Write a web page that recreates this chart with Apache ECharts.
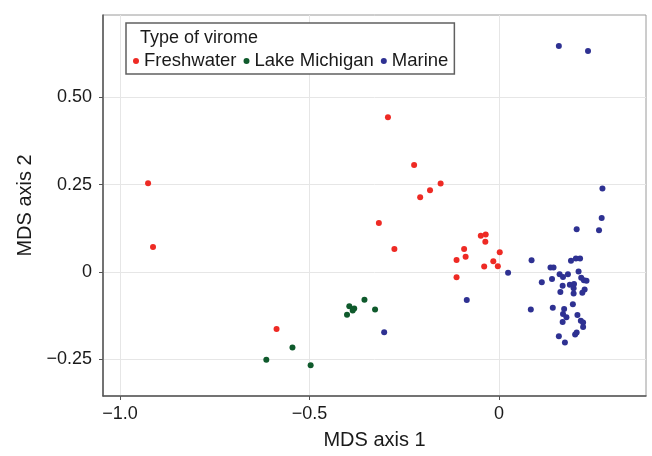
<!DOCTYPE html>
<html>
<head>
<meta charset="utf-8">
<script src="https://cdn.jsdelivr.net/npm/echarts@6/dist/echarts.min.js"></script>
<style>html,body{margin:0;padding:0;background:#fff}#c{width:652px;height:456px}</style>
</head>
<body>
<div id="c"></div>
<script>
// Data (MDS axis 1, MDS axis 2)
var freshwater = [
  [-0.926, 0.254], [-0.913, 0.071], [-0.293, 0.443], [-0.224, 0.306], [-0.208, 0.214],
  [-0.182, 0.234], [-0.154, 0.253], [-0.317, 0.140], [-0.276, 0.065], [-0.587, -0.164],
  [-0.048, 0.103], [-0.035, 0.107], [-0.036, 0.086], [-0.092, 0.065], [-0.112, 0.034],
  [-0.088, 0.043], [0.002, 0.056], [-0.015, 0.030], [-0.039, 0.015], [-0.003, 0.016],
  [-0.112, -0.016]
];
var lakeMichigan = [
  [-0.355, -0.080], [-0.395, -0.099], [-0.382, -0.105], [-0.386, -0.111], [-0.401, -0.123],
  [-0.327, -0.108], [-0.545, -0.217], [-0.614, -0.252], [-0.497, -0.268]
];
var marine = [
  [0.158, 0.647], [0.235, 0.633], [0.273, 0.239], [0.271, 0.154], [0.205, 0.122],
  [0.264, 0.119], [0.086, 0.033], [0.190, 0.032], [0.203, 0.038], [0.214, 0.038],
  [0.136, 0.012], [0.144, 0.012], [0.210, 0.001], [0.024, -0.003], [0.160, -0.007],
  [0.182, -0.007], [0.169, -0.015], [0.217, -0.017], [0.224, -0.024], [0.231, -0.026],
  [0.140, -0.021], [0.113, -0.030], [0.168, -0.040], [0.187, -0.037], [0.198, -0.035],
  [0.197, -0.047], [0.226, -0.051], [0.220, -0.060], [0.162, -0.058], [0.197, -0.062],
  [-0.085, -0.081], [0.195, -0.093], [0.084, -0.108], [0.142, -0.103], [0.172, -0.107],
  [0.169, -0.121], [0.178, -0.130], [0.207, -0.124], [0.216, -0.140], [0.222, -0.145],
  [0.168, -0.144], [0.222, -0.158], [0.201, -0.180], [0.205, -0.174], [0.158, -0.185],
  [0.174, -0.203], [-0.303, -0.173]
];
var xTicks = [-1.0, -0.5, 0];
var yTicks = [-0.25, 0, 0.25, 0.5];
var xTickLabels = ['\u22121.0', '\u22120.5', '0'];
var yTickLabels = ['\u22120.25', '0', '0.25', '0.50'];
var seriesNames = ['Freshwater', 'Lake Michigan', 'Marine'];
var seriesColors = ['#ee2a24', '#0f5a2c', '#2e3192'];
var legendTitle = 'Type of virome';
var xName = 'MDS axis 1';
var yName = 'MDS axis 2';

var FONT = "'Liberation Sans', Arial, sans-serif";
function labelFor(ticks, labels) {
  return function (v) {
    for (var i = 0; i < ticks.length; i++) if (Math.abs(ticks[i] - v) < 1e-6) return labels[i];
    return '';
  };
}
var datasets = [freshwater, lakeMichigan, marine];
var chart = echarts.init(document.getElementById('c'), null, { renderer: 'canvas' });
chart.setOption({
  animation: false,
  backgroundColor: '#fff',
  title: {
    text: legendTitle, left: 140, top: 29, padding: 0, z: 10,
    textStyle: { fontFamily: FONT, fontSize: 18, fontWeight: 'normal', color: '#1a1a1a' }
  },
  legend: {
    data: seriesNames, left: 126, top: 23, orient: 'horizontal',
    padding: [28, 6, 3, 7], itemGap: 7, itemWidth: 6, itemHeight: 6,
    icon: 'circle', backgroundColor: '#fff', borderColor: '#606060', borderWidth: 1.5,
    textStyle: { fontFamily: FONT, fontSize: 18.5, color: '#1a1a1a', lineHeight: 20 }
  },
  grid: { left: 103, right: 6, top: 15, bottom: 60, show: true, borderColor: '#9a9a9a', borderWidth: 1 },
  xAxis: {
    type: 'value', min: -1.045, max: 0.388,
    name: xName, nameLocation: 'middle', nameGap: 34,
    nameTextStyle: { fontFamily: FONT, fontSize: 20, color: '#1a1a1a' },
    axisLine: { show: true, onZero: false, lineStyle: { color: '#555', width: 1.5 } },
    axisTick: { show: true, length: 4, customValues: xTicks, lineStyle: { color: '#555' } },
    axisLabel: { customValues: xTicks, formatter: labelFor(xTicks, xTickLabels), margin: 9,
      fontFamily: FONT, fontSize: 18, color: '#1a1a1a' },
    splitLine: { show: true, lineStyle: { color: '#e6e6e6', width: 1 } }
  },
  yAxis: {
    type: 'value', min: -0.356, max: 0.736,
    name: yName, nameLocation: 'middle', nameGap: 62, nameRotate: 90,
    nameTextStyle: { fontFamily: FONT, fontSize: 20, color: '#1a1a1a' },
    axisLine: { show: true, onZero: false, lineStyle: { color: '#555', width: 1.5 } },
    axisTick: { show: true, length: 4, customValues: yTicks, lineStyle: { color: '#555' } },
    axisLabel: { customValues: yTicks, formatter: labelFor(yTicks, yTickLabels), margin: 11,
      fontFamily: FONT, fontSize: 18, color: '#1a1a1a' },
    splitLine: { show: true, lineStyle: { color: '#e6e6e6', width: 1 } }
  },
  series: seriesNames.map(function (n, i) {
    return {
      name: n, type: 'scatter', data: datasets[i], symbol: 'circle', symbolSize: 6,
      itemStyle: { color: seriesColors[i], opacity: 1 }
    };
  })
});
</script>
</body>
</html>
